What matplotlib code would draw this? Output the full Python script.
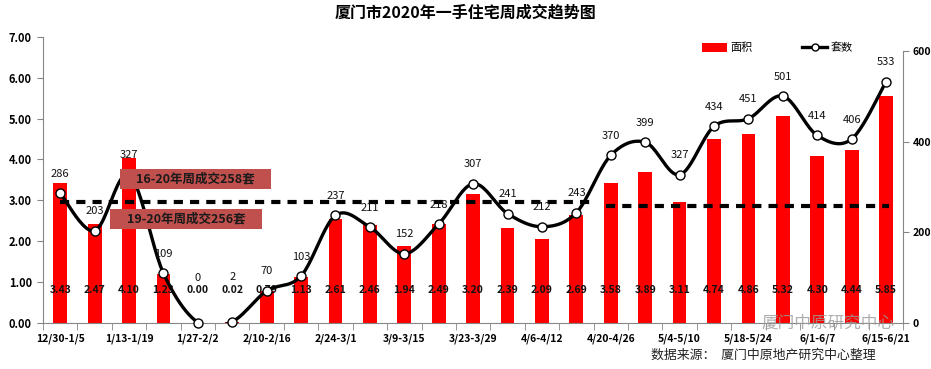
import numpy as np
import matplotlib.pyplot as plt
from matplotlib.patches import Patch, Rectangle
from matplotlib.lines import Line2D

plt.rcParams['font.family'] = ['Noto Sans CJK SC', 'DejaVu Sans']

weeks = ["12/30-1/5", "1/6-1/12", "1/13-1/19", "1/20-1/26", "1/27-2/2", "2/3-2/9",
         "2/10-2/16", "2/17-2/23", "2/24-3/1", "3/2-3/8", "3/9-3/15", "3/16-3/22",
         "3/23-3/29", "3/30-4/5", "4/6-4/12", "4/13-4/19", "4/20-4/26", "4/27-5/3",
         "5/4-5/10", "5/11-5/17", "5/18-5/24", "5/25-5/31", "6/1-6/7", "6/8-6/14",
         "6/15-6/21"]
# area labels as printed in the chart (万㎡)
area_label = ["3.43", "2.47", "4.10", "1.23", "0.00", "0.02", "0.79", "1.13", "2.61",
              "2.46", "1.94", "2.49", "3.20", "2.39", "2.09", "2.69", "3.58", "3.89",
              "3.11", "4.74", "4.86", "5.32", "4.30", "4.44", "5.85"]
# bar heights as drawn
area_bar = [3.41, 2.42, 4.03, 1.20, 0.00, 0.02, 0.78, 1.11, 2.54, 2.40, 1.88, 2.42,
            3.16, 2.32, 2.04, 2.64, 3.41, 3.70, 2.96, 4.50, 4.63, 5.07, 4.08, 4.23, 5.56]
units = [286, 203, 327, 109, 0, 2, 70, 103, 237, 211, 152, 218, 307, 241, 212, 243,
         370, 399, 327, 434, 451, 501, 414, 406, 533]

# average lines (drawn level on right axis) and their captions
avg_16_20 = 266
avg_19_20 = 258
avg_16_20_text = "16-20年周成交258套"
avg_19_20_text = "19-20年周成交256套"
split_week = 15.5   # first average ends / second starts between 4/13 and 4/20


def smooth(xs, ys, n=24):
    """Excel-like smoothed line: cubic bezier with catmull-rom control points."""
    pts = np.column_stack([xs, ys]).astype(float)
    ext = np.vstack([pts[0], pts, pts[-1]])
    t = np.linspace(0, 1, n)[:, None]
    out = []
    for i in range(len(pts) - 1):
        p0, p1, p2, p3 = ext[i], ext[i + 1], ext[i + 2], ext[i + 3]
        c1 = p1 + (p2 - p0) / 6
        c2 = p2 - (p3 - p1) / 6
        seg = ((1 - t) ** 3) * p1 + 3 * ((1 - t) ** 2) * t * c1 + 3 * (1 - t) * t ** 2 * c2 + t ** 3 * p2
        out.append(seg if i == 0 else seg[1:])
    out = np.vstack(out)
    return out[:, 0], out[:, 1]


fig = plt.figure(figsize=(9.31, 3.69), dpi=100)
ax = fig.add_axes([0.0462, 0.126, 0.924, 0.774])
ax2 = ax.twinx()

x = np.arange(len(weeks))
grey = "#868686"

# bars
ax.bar(x, area_bar, width=0.4, color="#ff0000", zorder=2)
ax.set_xlim(-0.5, len(weeks) - 0.5)
ax.set_ylim(0, 7)
ax.set_yticks(np.arange(0, 8, 1))
ax.set_yticklabels([f"{v:.2f}" for v in range(8)], fontsize=8, fontweight="bold")
for i, lab in enumerate(area_label):
    ax.text(i, 0.8, lab, ha="center", va="center", fontsize=7.5, fontweight="bold",
            color="#111111", zorder=5)

ax.set_xticks(x[::2])
ax.set_xticklabels(weeks[::2], fontsize=7.5, fontweight="bold")
ax.set_xticks(np.arange(-0.5, len(weeks), 1), minor=True)
ax.tick_params(axis="x", which="major", length=0, pad=8)
ax.tick_params(axis="x", which="minor", length=5, color=grey, direction="out")
ax.tick_params(axis="y", length=4, color=grey, pad=4)
for s in ["top", "right"]:
    ax.spines[s].set_visible(False)
for s in ["left", "bottom"]:
    ax.spines[s].set_color(grey)

# right axis: units
ax2.set_ylim(0, 632)
ax2.set_yticks([0, 200, 400, 600])
ax2.set_yticklabels(["0", "200", "400", "600"], fontsize=7.5, fontweight="bold")
ax2.spines["right"].set_bounds(0, 600)
ax2.spines["right"].set_color(grey)
for s in ["top", "left", "bottom"]:
    ax2.spines[s].set_visible(False)
ax2.tick_params(axis="y", length=4, color=grey, pad=2.5)

sx, sy = smooth(x, units)
ax2.plot(sx, sy, color="black", lw=2.4, zorder=3, solid_capstyle="round")
ax2.plot(x, units, ls="none", marker="o", ms=6.5, mfc="white", mec="black",
         mew=1.0, zorder=4, clip_on=False)
for i, v in enumerate(units):
    dy = 32 if v < 10 else 14
    ax2.annotate(str(v), (i, v), xytext=(0, dy), textcoords="offset points",
                 ha="center", va="center", fontsize=8, color="#111111", zorder=5)

# average dashed lines
dash = dict(color="black", lw=3, linestyle=(0, (2.2, 1.7)), dash_capstyle="butt", zorder=4)
ax2.plot([0, split_week], [avg_16_20, avg_16_20], **dash)
ax2.plot([split_week + 0.35, len(weeks) - 0.9], [avg_19_20, avg_19_20], **dash)

# caption boxes (figure pixels -> fractions)
W, H = 931, 369
for (x0, x1, y0, y1), txt in [((120, 271, 169, 189), avg_16_20_text),
                              ((110, 262, 209, 229), avg_19_20_text)]:
    fig.patches.append(Rectangle((x0 / W, 1 - y1 / H), (x1 - x0) / W, (y1 - y0) / H,
                                 transform=fig.transFigure, facecolor="#c0504d",
                                 edgecolor="none", zorder=6))
    fig.text((x0 + x1) / 2 / W, 1 - (y0 + y1) / 2 / H, txt, ha="center", va="center",
             fontsize=9, fontweight="bold", color="#1a1a1a", zorder=7)

# title, legend, footer
fig.text(0.5, 0.965, "厦门市2020年一手住宅周成交趋势图", ha="center", va="center",
         fontsize=11.5, fontweight="bold")
handles = [Patch(facecolor="#ff0000", edgecolor="none"),
           Line2D([], [], color="black", lw=2.4, marker="o", ms=5, mfc="white", mec="black")]
fig.legend(handles, ["面积", "套数"], loc="center", bbox_to_anchor=(0.835, 0.87),
           ncol=2, frameon=False, fontsize=8, handlelength=2.2, handleheight=0.9,
           columnspacing=4.5, handletextpad=0.3)
fig.text(0.82, 0.038, "数据来源：  厦门中原地产研究中心整理", ha="center", va="center",
         fontsize=9.3, color="#222222")
fig.text(0.889, 0.125, "厦门中原研究中心", ha="center", va="center", fontsize=12,
         color="#9a9a9a", alpha=0.8, zorder=7)

fig.savefig("out.png", dpi=100)
